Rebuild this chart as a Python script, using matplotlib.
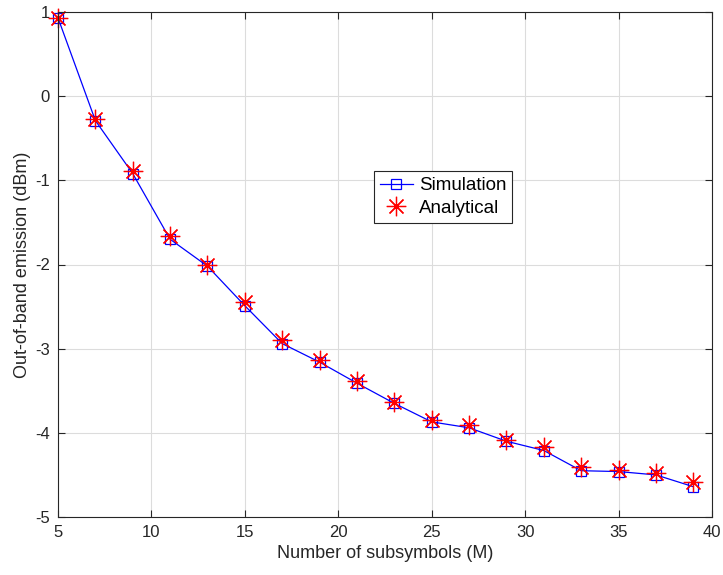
import matplotlib
matplotlib.use("Agg")
import matplotlib.pyplot as plt

plt.rcParams['font.family'] = ['Liberation Sans', 'DejaVu Sans']
plt.rcParams['axes.unicode_minus'] = False

# 부호 수 M
M = [5, 7, 9, 11, 13, 15, 17, 19, 21, 23, 25, 27, 29, 31, 33, 35, 37, 39]
# 시뮬레이션 결과 (dBm)
sim = [0.93, -0.29, -0.92, -1.70, -2.02, -2.49, -2.94, -3.16, -3.41, -3.65,
       -3.87, -3.94, -4.10, -4.21, -4.45, -4.46, -4.50, -4.64]
# 분석 결과 (dBm)
ana = [0.93, -0.27, -0.89, -1.66, -2.01, -2.45, -2.90, -3.14, -3.39, -3.63,
       -3.85, -3.91, -4.08, -4.17, -4.41, -4.44, -4.48, -4.59]

fig = plt.figure(figsize=(7.23, 5.75), dpi=100)
ax = fig.add_axes([58/723, 1-517/575, (712-58)/723, (517-12)/575])

ax.plot(M, sim, color='b', linewidth=0.9, marker='s', markersize=7,
        markerfacecolor='none', markeredgecolor='b', markeredgewidth=0.9,
        label='Simulation', clip_on=False)
# MATLAB 스타일 별표 마커 (8갈래)
ax.plot(M, ana, linestyle='none', marker=(8, 2, 0), markersize=14, color='r',
        markeredgewidth=0.9, label='Analytical', clip_on=False)

ax.set_xlim(5, 40)
ax.set_ylim(-5, 1)
ax.set_xticks(range(5, 41, 5))
ax.set_yticks(range(-5, 2))
ax.grid(True, color='#dcdcdc', linewidth=0.8)
ax.set_axisbelow(True)
ax.tick_params(direction='in', top=True, right=True, labelsize=12,
               colors='#262626', length=5, pad=6)
for s in ax.spines.values():
    s.set_color('#262626')
    s.set_linewidth(0.8)

ax.set_xlabel('Number of subsymbols (M)', fontsize=13, color='#262626', labelpad=3)
ax.set_ylabel('Out-of-band emission (dBm)', fontsize=13, color='#262626', labelpad=3)

leg = ax.legend(loc='center', bbox_to_anchor=((443-58)/654, (517-197)/505),
                fontsize=13.5, frameon=True, fancybox=False, edgecolor='#262626',
                framealpha=1, borderpad=0.3, handlelength=1.8, handletextpad=0.3,
                labelspacing=0.3, borderaxespad=0)
leg.get_frame().set_linewidth(0.8)

fig.savefig('out.png', dpi=100)
